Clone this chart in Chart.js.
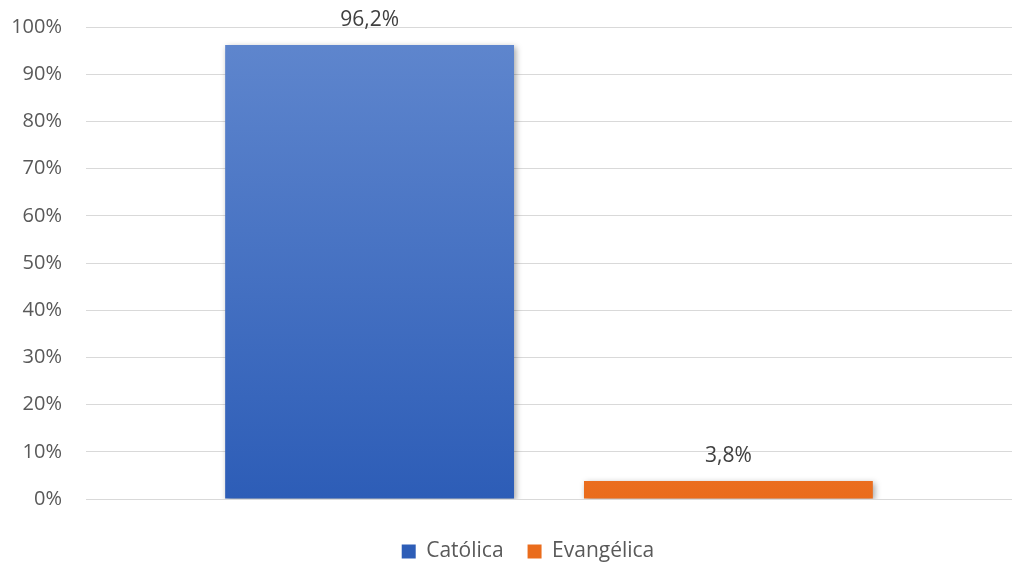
<!DOCTYPE html>
<html>
<head>
<meta charset="utf-8">
<script src="https://cdn.jsdelivr.net/npm/chart.js@4/dist/chart.umd.min.js"></script>
<style>
  html, body { margin: 0; padding: 0; background: #fff; }
  #wrap { width: 1013px; height: 562px; }
</style>
</head>
<body>
<div id="wrap"><canvas id="chart"></canvas></div>
<script>
const categories = [''];
const catolica = [96.2];
const evangelica = [3.8];
const seriesNames = ['Católica', 'Evangélica'];

const textColor = '#595959';
const fontFamily = '"Open Sans", "Noto Sans", sans-serif';

function gradient(ctx, top, bottom) {
    const area = ctx.chart.chartArea;
    if (!area) return bottom;
    const g = ctx.chart.ctx.createLinearGradient(0, area.top, 0, area.bottom);
    g.addColorStop(0, top);
    g.addColorStop(1, bottom);
    return g;
}

// percent labels above the bars, comma decimals
const valueLabels = {
    id: 'valueLabels',
    afterDatasetsDraw(chart) {
        const c = chart.ctx;
        c.save();
        c.font = '21px ' + fontFamily;
        c.fillStyle = '#404040';
        c.textAlign = 'center';
        c.textBaseline = 'middle';
        chart.data.datasets.forEach((ds, i) => {
            chart.getDatasetMeta(i).data.forEach((el, j) => {
                const txt = ds.data[j].toFixed(1).replace('.', ',') + '%';
                c.fillText(txt, el.x, el.y - 25);
            });
        });
        c.restore();
    }
};

// soft shadow under bars
const barShadow = {
    id: 'barShadow',
    beforeDatasetsDraw(chart) {
        const c = chart.ctx;
        c.save();
        c.shadowColor = 'rgba(0,0,0,0.35)';
        c.shadowBlur = 6;
        c.shadowOffsetX = 2;
        c.shadowOffsetY = 2;
    },
    afterDatasetsDraw(chart) {
        chart.ctx.restore();
    }
};

// legend sits centred under the plot area, not the canvas
const legendShift = {
    id: 'legendShift',
    afterLayout(chart) {
        chart.legend.left += 22;
        chart.legend.right += 22;
    }
};

new Chart(document.getElementById('chart'), {
    type: 'bar',
    data: {
        labels: categories,
        datasets: [
            {
                label: seriesNames[0],
                data: catolica,
                backgroundColor: ctx => gradient(ctx, '#6087ce', '#2d5db7')
            },
            {
                label: seriesNames[1],
                data: evangelica,
                backgroundColor: ctx => gradient(ctx, '#f59a62', '#ea6c1c')
            }
        ]
    },
    options: {
        responsive: true,
        maintainAspectRatio: false,
        animation: false,
        categoryPercentage: 0.775,
        barPercentage: 0.805,
        layout: { padding: { top: 27, right: 1, bottom: -10, left: 0 } },
        plugins: {
            tooltip: { enabled: false },
            legend: {
                position: 'bottom',
                labels: {
                    color: textColor,
                    font: { family: fontFamily, size: 21 },
                    boxWidth: 14,
                    boxHeight: 14,
                    padding: 24
                }
            }
        },
        scales: {
            x: {
                grid: { display: false },
                border: { display: false },
                ticks: { display: false },
                afterFit: s => { s.height = 18; }
            },
            y: {
                min: 0,
                max: 100,
                ticks: {
                    stepSize: 10,
                    padding: 24,
                    color: textColor,
                    font: { family: fontFamily, size: 20 },
                    callback: v => v + '%'
                },
                grid: { color: '#d9d9d9', drawTicks: false },
                border: { display: false },
                afterFit: s => { s.width = 86; s.paddingTop = 0; s.paddingBottom = 0; }
            }
        }
    },
    plugins: [barShadow, valueLabels, legendShift]
});
</script>
</body>
</html>
